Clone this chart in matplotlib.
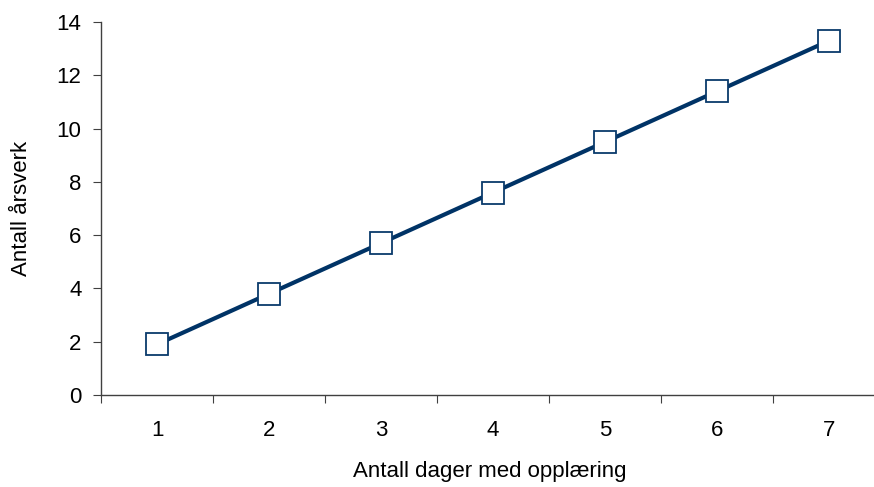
import matplotlib.pyplot as plt

days = [1, 2, 3, 4, 5, 6, 7]
aarsverk = [1.9, 3.8, 5.7, 7.6, 9.5, 11.4, 13.3]
y_ticks = [0, 2, 4, 6, 8, 10, 12, 14]

plt.rcParams['font.family'] = ['Liberation Sans', 'DejaVu Sans']

fig = plt.figure(figsize=(8.74, 4.87), dpi=100)
ax = fig.add_axes([101 / 874, 1 - 395 / 487, 1 - 101 / 874, (395 - 22) / 487])

ax.plot(days, aarsverk, color='#003366', linewidth=3, marker='s', markersize=16,
        markerfacecolor='white', markeredgecolor='#0a3a6b', markeredgewidth=1.3,
        clip_on=False, zorder=3)

ax.set_xlim(0.5, 7.4)
ax.set_ylim(0, 14)
ax.set_yticks(y_ticks)
# ticks sit between categories, labels centred on them
ax.set_xticks([d + 0.5 for d in days[:-1]] + [0.5])
ax.set_xticklabels([])
ax.set_xticks(days, minor=True)
ax.set_xticklabels([str(d) for d in days], minor=True)
ax.tick_params(axis='x', which='minor', length=0, pad=18, labelsize=16)
ax.tick_params(axis='x', which='major', length=6, color='#404040')
ax.tick_params(axis='y', length=6, color='#404040', labelsize=16, pad=8)

for side in ['top', 'right']:
    ax.spines[side].set_visible(False)
for side in ['left', 'bottom']:
    ax.spines[side].set_color('#404040')
    ax.spines[side].set_linewidth(1)

ax.set_ylabel('Antall årsverk', fontsize=16, labelpad=18)
fig.text(490 / 874, 1 - 477 / 487, 'Antall dager med opplæring', fontsize=16,
         ha='center', va='baseline')

fig.savefig('out.png', dpi=100)
